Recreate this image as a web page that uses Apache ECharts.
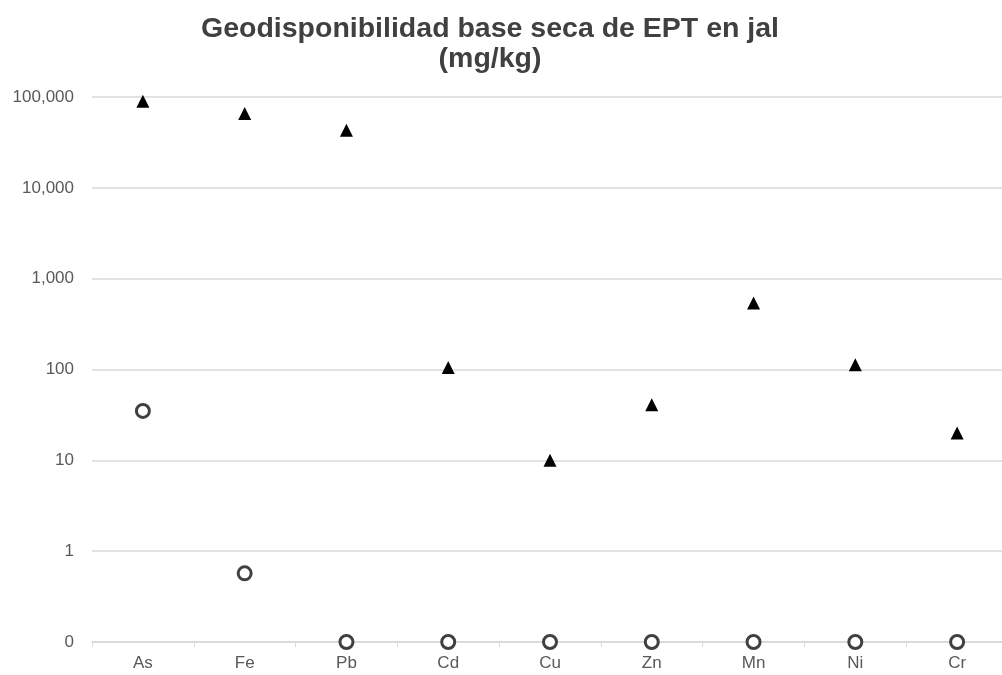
<!DOCTYPE html>
<html><head><meta charset="utf-8">
<script src="https://cdn.jsdelivr.net/npm/echarts@6/dist/echarts.min.js"></script>
<style>html,body{margin:0;padding:0;background:#fff}#c{width:1002px;height:675px}</style>
</head><body><div id="c"></div>
<script>
const categories = ['As','Fe','Pb','Cd','Cu','Zn','Mn','Ni','Cr'];
const totalValues = [90000, 66000, 43000, 105, 10, 41, 540, 113, 20];
const availValues = [35, 0.57, 0.1, 0.1, 0.1, 0.1, 0.1, 0.1, 0.1];
const chart = echarts.init(document.getElementById('c'));
chart.setOption({
  animation: false,
  title: {
    text: 'Geodisponibilidad base seca de EPT en jal\n(mg/kg)',
    left: 485, top: 9, textAlign: 'center',
    textStyle: {fontFamily: 'Liberation Sans', fontSize: 28.5, fontWeight: 'bold', color: '#404040', lineHeight: 30}
  },
  grid: {left: 92, width: 916, top: 97, bottom: 33, outerBoundsMode: 'none', containLabel: false},
  xAxis: {
    type: 'category', data: categories, boundaryGap: true,
    axisLine: {lineStyle: {color: '#d9d9d9', width: 1.5}},
    axisTick: {show: true, alignWithLabel: false, length: 5, lineStyle: {color: '#d9d9d9'}},
    axisLabel: {fontFamily: 'Liberation Sans', fontSize: 17, color: '#595959', margin: 13},
    z: 1
  },
  yAxis: {
    type: 'log', logBase: 10, min: 0.1, max: 100000,
    axisLine: {show: false}, axisTick: {show: false},
    splitLine: {lineStyle: {color: '#d9d9d9', width: 1.5}},
    axisLabel: {
      fontFamily: 'Liberation Sans', fontSize: 17, color: '#595959', margin: 18,
      formatter: v => v < 1 ? '0' : Math.round(v).toLocaleString('en-US')
    }
  },
  series: [
    {type: 'scatter', data: totalValues, symbol: 'triangle', symbolSize: 13,
     itemStyle: {color: '#000', opacity: 1}, z: 3},
    {type: 'scatter', data: availValues, symbol: 'circle', symbolSize: 13,
     itemStyle: {color: '#fff', borderColor: '#404040', borderWidth: 3, opacity: 1}, z: 3}
  ]
});
</script></body></html>
